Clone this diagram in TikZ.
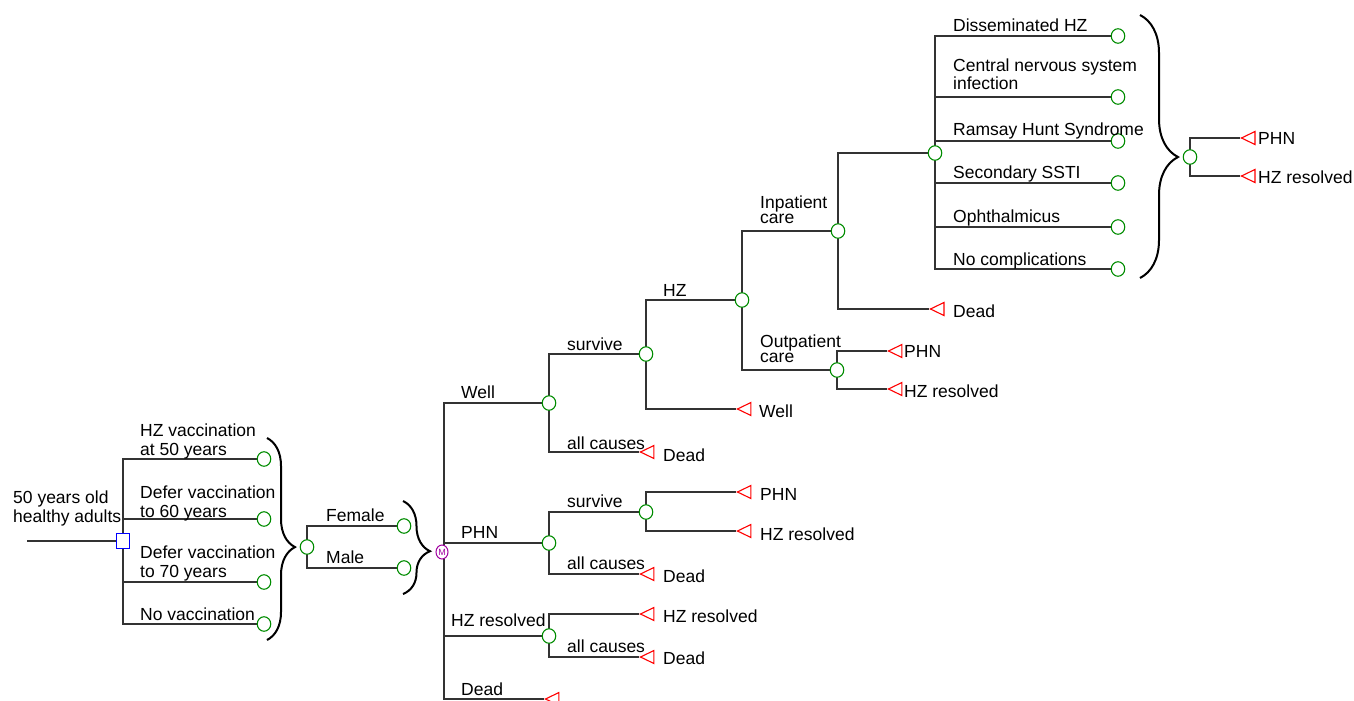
\documentclass[tikz,border=0pt]{standalone}
\usepackage{fontspec}
\setmainfont{Liberation Sans}
\usetikzlibrary{shapes.geometric,decorations.pathreplacing,backgrounds}
\definecolor{chgreen}{RGB}{0,140,0}
\definecolor{mkpurple}{RGB}{160,0,160}
\tikzset{
  edge/.style={line width=1.1pt, draw=black!80},
  chance/.style={ellipse, draw=chgreen, line width=1.1pt, fill=white, minimum width=13.5pt, minimum height=14.5pt, inner sep=0pt},
  term/.style={isosceles triangle, isosceles triangle stretches, shape border rotate=180, draw=red, line width=1.1pt, fill=white, minimum width=13pt, minimum height=13.5pt, inner sep=0pt},
  dec/.style={rectangle, draw=blue, line width=1.1pt, fill=white, minimum width=13pt, minimum height=15pt, inner sep=0pt},
  markov/.style={ellipse, draw=mkpurple, text=mkpurple, line width=1pt, fill=white, font=\fontsize{9}{9}\selectfont, minimum width=12pt, minimum height=14pt, inner sep=0pt},
  lbl/.style={anchor=base west, inner sep=0pt, align=left, font=\fontsize{17.5}{19}\selectfont},
  lbltight/.style={lbl, font=\fontsize{17.5}{15}\selectfont},
  brc/.style={decorate, decoration={brace, amplitude=#1, aspect=0.54}, line width=2pt, draw=black},
}
\begin{document}
\begin{tikzpicture}[x=1pt,y=-1pt]
\useasboundingbox (0,0) rectangle (1354,701);
% ---------- nodes ----------
\coordinate (start) at (27,541);
\node[dec] (dec) at (123,541) {};
\node[chance] (s1) at (264,459) {};
\node[chance] (s2) at (264,519) {};
\node[chance] (s3) at (264,582) {};
\node[chance] (s4) at (264,624) {};
\node[chance] (sex) at (307,547) {};
\node[chance] (fem) at (404,526) {};
\node[chance] (male) at (404,568) {};
\node[markov] (mk) at (442,552) {M};
\node[chance] (w) at (549,403) {};
\node[chance] (p) at (549,543) {};
\node[chance] (r) at (549,636) {};
\node[term, anchor=apex] (tdm) at (544,699) {};
\node[chance] (ws) at (646,354) {};
\node[term, anchor=apex] (wd) at (639,452) {};
\node[chance] (hz) at (742,300) {};
\node[term, anchor=apex] (wwell) at (736,409) {};
\node[chance] (inp) at (838,231) {};
\node[chance] (outp) at (837,370) {};
\node[chance] (comp) at (935,153) {};
\node[term, anchor=apex] (idead) at (929,309) {};
\node[chance] (c1) at (1118,36) {};
\node[chance] (c2) at (1118,97) {};
\node[chance] (c3) at (1118,141) {};
\node[chance] (c4) at (1118,183) {};
\node[chance] (c5) at (1118,227) {};
\node[chance] (c6) at (1118,269) {};
\node[chance] (fin) at (1190,157) {};
\node[term, anchor=apex] (fphn) at (1240,138) {};
\node[term, anchor=apex] (fres) at (1240,176) {};
\node[term, anchor=apex] (ophn) at (887,351) {};
\node[term, anchor=apex] (ores) at (887,389) {};
\node[chance] (ps) at (646,512) {};
\node[term, anchor=apex] (pd) at (639,574) {};
\node[term, anchor=apex] (psp) at (736,492) {};
\node[term, anchor=apex] (psr) at (736,531) {};
\node[term, anchor=apex] (rr) at (639,614) {};
\node[term, anchor=apex] (rd) at (639,657) {};
% ---------- connectors ----------
\begin{pgfonlayer}{background}
\draw[edge] (start) -- (dec.center);
\foreach \c in {s1,s2,s3,s4} \draw[edge] (dec.center) |- (\c.west);
\foreach \c in {fem,male} \draw[edge] (sex.center) |- (\c.west);
\foreach \c in {w,p,r} \draw[edge] (mk.center) ++(2,0) |- (\c.west);
\draw[edge] (mk.center) ++(2,0) |- (tdm.apex);
\draw[edge] (w.center) |- (ws.west);
\draw[edge] (w.center) |- (wd.apex);
\draw[edge] (ws.center) |- (hz.west);
\draw[edge] (ws.center) |- (wwell.apex);
\draw[edge] (hz.center) |- (inp.west);
\draw[edge] (hz.center) |- (outp.west);
\draw[edge] (inp.center) |- (comp.west);
\draw[edge] (inp.center) |- (idead.apex);
\foreach \c in {c1,c2,c3,c4,c5,c6} \draw[edge] (comp.center) |- (\c.west);
\draw[edge] (fin.center) |- (fphn.apex);
\draw[edge] (fin.center) |- (fres.apex);
\draw[edge] (outp.center) |- (ophn.apex);
\draw[edge] (outp.center) |- (ores.apex);
\draw[edge] (p.center) |- (ps.west);
\draw[edge] (p.center) |- (pd.apex);
\draw[edge] (ps.center) |- (psp.apex);
\draw[edge] (ps.center) |- (psr.apex);
\draw[edge] (r.center) |- (rr.apex);
\draw[edge] (r.center) |- (rd.apex);
\end{pgfonlayer}
% ---------- braces ----------
\draw[brc=28] (267,438) -- (267,640);
\draw[brc=27] (403,501) -- (403,594);
\draw[brc=38] (1140,15) -- (1140,278);
% ---------- labels ----------
\node[lbl] at (13,522) {50 years old\\healthy adults};
\node[lbl] at (140,455) {HZ vaccination\\at 50 years};
\node[lbl] at (140,517) {Defer vaccination\\to 60 years};
\node[lbl] at (140,577) {Defer vaccination\\to 70 years};
\node[lbl] at (140,620) {No vaccination};
\node[lbl] at (326,521) {Female};
\node[lbl] at (326,563) {Male};
\node[lbl] at (461,398) {Well};
\node[lbl] at (461,538) {PHN};
\node[lbl] at (451,626) {HZ resolved};
\node[lbl] at (461,695) {Dead};
\node[lbl] at (567,350) {survive};
\node[lbl] at (567,449) {all causes};
\node[lbl] at (663,461) {Dead};
\node[lbl] at (663,296) {HZ};
\node[lbl] at (759,417) {Well};
\node[lbltight] at (760,223) {Inpatient\\care};
\node[lbltight] at (760,362) {Outpatient\\care};
\node[lbl] at (953,317) {Dead};
\node[lbl] at (904,357) {PHN};
\node[lbl] at (904,397) {HZ resolved};
\node[lbl] at (953,32) {Disseminated HZ};
\node[lbltight] at (953,89) {Central nervous system\\infection};
\node[lbl] at (953,135) {Ramsay Hunt Syndrome};
\node[lbl] at (953,178) {Secondary SSTI};
\node[lbl] at (953,222) {Ophthalmicus};
\node[lbl] at (953,265) {No complications};
\node[lbl] at (1258,144) {PHN};
\node[lbl] at (1258,183) {HZ resolved};
\node[lbl] at (567,507) {survive};
\node[lbl] at (567,569) {all causes};
\node[lbl] at (663,582) {Dead};
\node[lbl] at (760,500) {PHN};
\node[lbl] at (760,540) {HZ resolved};
\node[lbl] at (663,622) {HZ resolved};
\node[lbl] at (567,652) {all causes};
\node[lbl] at (663,664) {Dead};
\end{tikzpicture}
\end{document}
